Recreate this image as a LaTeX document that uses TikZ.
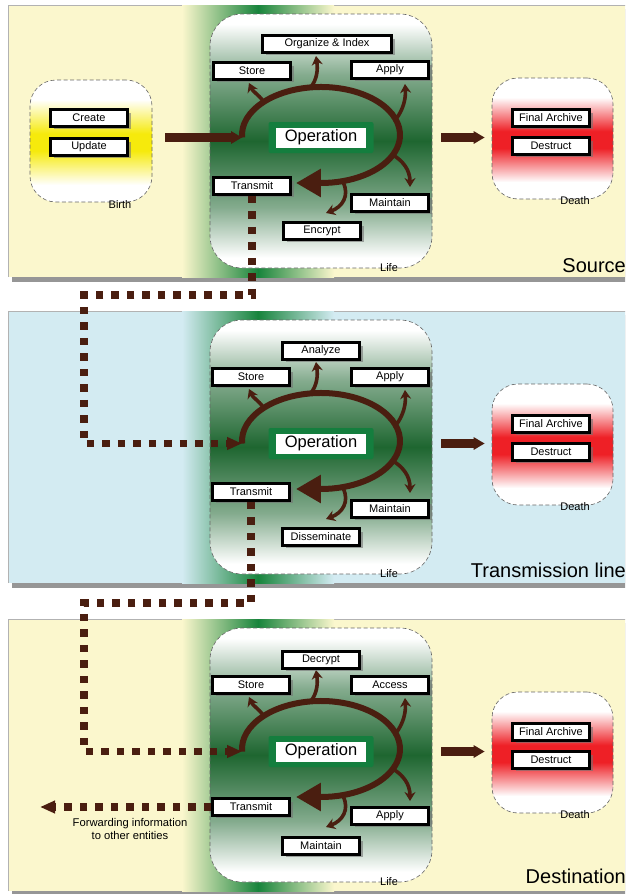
\documentclass[tikz,border=0pt]{standalone}
\usepackage{fontspec}
\setmainfont{Liberation Sans}
\usetikzlibrary{arrows.meta,shadows}

\definecolor{cream}{RGB}{251,247,205}
\definecolor{skyband}{RGB}{211,235,242}
\definecolor{leaf}{RGB}{24,132,60}
\definecolor{deepleaf}{RGB}{30,102,48}
\colorlet{midleaf}{deepleaf!55!white}
\definecolor{bark}{RGB}{74,30,16}
\definecolor{sun}{RGB}{246,234,12}
\definecolor{blood}{RGB}{238,32,38}
\definecolor{opgreen}{RGB}{20,126,62}
\definecolor{panelshadow}{RGB}{150,150,150}

\pgfdeclareverticalshading{lifefill}{100bp}{color(0bp)=(white); color(27bp)=(white); color(37bp)=(midleaf); color(50bp)=(deepleaf); color(63bp)=(midleaf); color(73bp)=(white); color(100bp)=(white)}
\pgfdeclareverticalshading{birthfill}{100bp}{color(0bp)=(white); color(32bp)=(white); color(46bp)=(sun); color(53bp)=(sun); color(67bp)=(white); color(100bp)=(white)}
\pgfdeclareverticalshading{deathfill}{100bp}{color(0bp)=(white); color(32bp)=(white); color(46bp)=(blood); color(53bp)=(blood); color(67bp)=(white); color(100bp)=(white)}

\tikzset{
  tag/.style={draw=black, line width=3pt, fill=white, minimum width=77pt, minimum height=16.5pt,
    inner xsep=2pt, inner ysep=0pt, font=\fontsize{11}{12}\selectfont,
    drop shadow={shadow xshift=3pt, shadow yshift=-3pt, fill=black!55, opacity=0.6}},
  phase/.style={draw=gray!80!black, dash pattern=on 4pt off 2.5pt, line width=0.6pt},
  phasename/.style={font=\fontsize{11}{12}\selectfont, inner sep=0pt},
  loopline/.style={draw=bark, line width=6pt},
  offshoot/.style={draw=bark, line width=3.6pt, -{Stealth[length=9pt,width=11pt]}},
  feed/.style={draw=bark, line width=9pt, -{Triangle[length=11pt,width=12pt]}},
  relay/.style={draw=bark, line width=7.5pt, dash pattern=on 7.5pt off 8pt, -{Triangle[length=15pt,width=12pt]}},
  stagename/.style={anchor=base east, font=\fontsize{20}{24}\selectfont, inner sep=0pt},
}

% common part of one stage: band, life area with the operation cycle, death area
\newcommand\stagebase[2]{%
  \fill[panelshadow] (12,-9) rectangle (640,-282);
  \fill[#2] (8,-5) rectangle (640,-277);
  \draw[gray!60, line width=0.6pt] (8,-277) -- (8,-5) -- (640,-5);
  \shade[left color=#2, right color=#2, middle color=leaf] (182,-5) rectangle (334,-277);
  \node[phase, shade, shading=lifefill, rounded corners=32pt, minimum width=222pt, minimum height=254pt] (#1-life) at (321,-141) {};
  \node[phasename] at (389,-268) {Life};
  % operation cycle
  \coordinate (#1-in) at (242.1,-137.5);
  \draw[loopline, -{Triangle[length=25pt,width=27pt]}] (#1-in) arc[start angle=183, end angle=-90, x radius=79pt, y radius=48pt] -- ++(-25,0);
  \draw[offshoot] (263,-101) .. controls (258,-94) and (253,-92) .. (249,-83);
  \draw[offshoot] (311,-87) .. controls (317,-79) and (318,-70) .. (316,-56);
  \draw[offshoot] (396,-119) .. controls (403,-110) and (406,-99) .. (405,-84);
  \draw[offshoot] (393,-155) .. controls (403,-161) and (410,-170) .. (410,-187);
  \draw[offshoot] (343,-182) .. controls (350,-196) and (342,-207) .. (326,-213);
  \node[fill=opgreen, rounded corners=2pt, minimum width=105pt, minimum height=31pt] (#1-opbg) at (321,-137.5) {};
  \node[fill=white, minimum width=90pt, minimum height=20pt, inner sep=0pt, font=\fontsize{16.5}{18}\selectfont] (#1-op) at (#1-opbg) {Operation};
  % death
  \node[phase, shade, shading=deathfill, rounded corners=26pt, minimum width=121pt, minimum height=121pt] (#1-death) at (552.5,-138.5) {};
  \node[phasename] at (575,-201) {Death};
  \node[tag] (#1-archive) at (551,-118) {Final Archive};
  \node[tag] (#1-destruct) at (551,-146) {Destruct};
  \draw[feed, shorten <=9pt, shorten >=7pt] (#1-life.east |- #1-in) -- (#1-death.west |- #1-in);
}

\begin{document}
\begin{tikzpicture}[x=1pt,y=1pt]
\useasboundingbox (0,0) rectangle (625,-894);
\clip (0,0) rectangle (625,-894);

% source
\begin{scope}
  \stagebase{S}{cream}
  \node[phase, shade, shading=birthfill, rounded corners=26pt, minimum width=122pt, minimum height=122pt] (S-birth) at (91,-141) {};
  \node[phasename] at (120,-205) {Birth};
  \node[tag] (S-create) at (89,-118) {Create};
  \node[tag] (S-update) at (89,-147) {Update};
  \draw[feed, shorten <=13pt] (S-birth.east |- S-in) -- (S-in);
  \node[tag] (S-store) at (252,-71) {Store};
  \node[tag, inner xsep=22pt] (S-org) at (327,-44) {Organize \& Index};
  \node[tag] (S-apply) at (390,-70) {Apply};
  \node[tag] (S-tr) at (252,-186) {Transmit};
  \node[tag] (S-maint) at (390,-203) {Maintain};
  \node[tag] (S-enc) at (322,-231) {Encrypt};
  \node[stagename] at (626,-272) {Source};
\end{scope}

% transmission line
\begin{scope}[yshift=-306pt]
  \stagebase{T}{skyband}
  \node[tag] (T-store) at (251,-71) {Store};
  \node[tag] (T-analyze) at (321,-45) {Analyze};
  \node[tag] (T-apply) at (390,-71) {Apply};
  \node[tag] (T-tr) at (251,-186) {Transmit};
  \node[tag] (T-maint) at (390,-203) {Maintain};
  \node[tag] (T-diss) at (321,-231) {Disseminate};
  \node[stagename] at (626,-271) {Transmission line};
\end{scope}

% destination
\begin{scope}[yshift=-614pt]
  \stagebase{D}{cream}
  \node[tag] (D-store) at (251,-71) {Store};
  \node[tag] (D-decrypt) at (321,-46) {Decrypt};
  \node[tag] (D-access) at (390,-71) {Access};
  \node[tag] (D-tr) at (251,-193) {Transmit};
  \node[tag] (D-apply) at (390,-202) {Apply};
  \node[tag] (D-maint) at (321,-232) {Maintain};
  \node[stagename] at (626,-269) {Destination};
\end{scope}

% information passed between the stages
\coordinate (bend1) at (84,-295);
\coordinate (bend2) at (84,-603);
\coordinate (fwd) at (40,-807);
\draw[relay] (S-tr.south) |- (bend1) |- (T-in);
\draw[relay] (T-tr.south) |- (bend2) |- (D-in);
\draw[relay] (D-tr.west) -- (fwd);
\node[font=\fontsize{11.2}{13}\selectfont, align=center] (fwdnote) at (130,-828.5) {Forwarding information\\to other entities};
\end{tikzpicture}
\end{document}
